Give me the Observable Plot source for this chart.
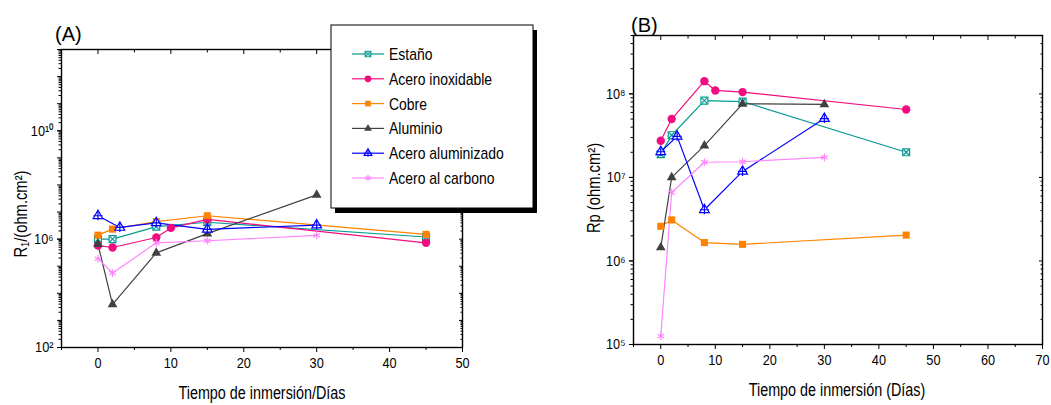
<!DOCTYPE html>
<html><head><meta charset="utf-8">
<script src="https://cdn.jsdelivr.net/npm/d3@7"></script>
<script src="https://cdn.jsdelivr.net/npm/@observablehq/plot@0.6"></script>
<style>
html,body{margin:0;padding:0;background:#fff;}
#wrap{position:relative;width:1051px;height:405px;overflow:hidden;}
#wrap svg{position:absolute;top:0;overflow:visible;}
</style></head><body><div id="wrap"></div>
<script>
// ---------- data ----------
const series = ["Estaño","Acero inoxidable","Cobre","Aluminio","Acero aluminizado","Acero al carbono"];
const colors = ["#079a94","#f20c7f","#ff8200","#404040","#0000ff","#ff85ff"];

const diasEstano      = [0,2,8,15,45];
const diasInox        = [0,2,8,10,15,45];
const diasCobre       = [0,2,8,15,45];
const diasAluminio    = [0,2,8,15,30];
const diasAluminizado = [0,3,8,15,30];
const diasCarbono     = [0,2,8,15,30];

// (A) R1 (ohm.cm2)
const r1Estano      = [1.0e6,1.0e6,2.9e6,4.2e6,1.2e6];
const r1Inox        = [5.8e5,4.9e5,1.15e6,2.6e6,5.4e6,7.3e5];
const r1Cobre       = [1.4e6,2.35e6,4.4e6,7.3e6,1.5e6];
const r1Aluminio    = [6.5e5,3.9e3,3.1e5,1.6e6,4.3e7];
const r1Aluminizado = [7.3e6,2.7e6,4.0e6,2.3e6,3.3e6];
const r1Carbono     = [1.9e5,5.6e4,7.3e5,8.7e5,1.37e6];

// (B) Rp (ohm.cm2)
const rpEstano      = [1.9e7,3.2e7,8.3e7,8.1e7,2.0e7];
const rpInox        = [2.75e7,5.0e7,1.42e8,1.1e8,1.05e8,6.5e7];
const rpCobre       = [2.6e6,3.1e6,1.66e6,1.58e6,2.04e6];
const rpAluminio    = [1.45e6,1.0e7,2.4e7,7.6e7,7.5e7];
const rpAluminizado = [2.03e7,3.1e7,4.1e6,1.18e7,5.07e7];
const rpCarbono     = [1.26e5,6.6e6,1.52e7,1.54e7,1.74e7];

// tick values
const xMajorA = [0,10,20,30,40,50];
const xMinorA = [-5,5,15,25,35,45];
const xMajorB = [0,10,20,30,40,50,60,70];
const xMinorB = [-5,5,15,25,35,45,55,65];
const yLabelA = [1e2,1e6,1e10];
const yDecA = [2,3,4,5,6,7,8,9,10,11,12,13];
const yLabelB = [1e5,1e6,1e7,1e8];
const yDecB = [5,6,7,8];

// ---------- helpers ----------
const dias = [diasEstano,diasInox,diasCobre,diasAluminio,diasAluminizado,diasCarbono];
const valsA = [r1Estano,r1Inox,r1Cobre,r1Aluminio,r1Aluminizado,r1Carbono];
const valsB = [rpEstano,rpInox,rpCobre,rpAluminio,rpAluminizado,rpCarbono];
function rows(vals){
  const out=[];
  series.forEach((s,i)=>dias[i].forEach((d,j)=>out.push({serie:s,dia:d,valor:vals[i][j]})));
  return out;
}
const rowsA = rows(valsA), rowsB = rows(valsB);
const majors = decs => decs.map(d=>Math.pow(10,d));
const minors = (decs,max) => decs.flatMap(d=>[2,3,4,5,6,7,8,9].map(k=>k*Math.pow(10,d))).filter(v=>v<=max);
const SUP = "⁰¹²³⁴⁵⁶⁷⁸⁹";
const pow10 = d => "10" + String(Math.round(Math.log10(d))).split("").map(c=>SUP[+c]).join("");

const FONT = "'Liberation Sans',Arial,sans-serif";
const col = s => colors[series.indexOf(s)];

const markerDefs = {
  "Estaño":[{symbol:"square",fill:"#fff",r:3.9,sw:1.2},{symbol:"times",fill:"none",r:2.6,sw:1.2}],
  "Acero inoxidable":[{symbol:"circle",fill:"c",r:4.2,sw:0}],
  "Cobre":[{symbol:"square",fill:"c",r:4.0,sw:0}],
  "Aluminio":[{symbol:"triangle",fill:"c",r:3.6,sw:0}],
  "Acero aluminizado":[{symbol:"triangle",fill:"#fff",r:3.6,sw:1.2},{symbol:"plus",fill:"none",r:3.0,sw:1.2}],
  "Acero al carbono":[{symbol:"asterisk",fill:"none",r:3.6,sw:1.2}]
};
function dotMarks(data){
  const m=[];
  series.forEach(s=>{
    const sub=data.filter(d=>d.serie===s);
    markerDefs[s].forEach(md=>{
      m.push(Plot.dot(sub,{x:"dia",y:"valor",symbol:md.symbol,r:md.r,
        fill: md.fill==="c"?col(s):md.fill, stroke: md.sw?col(s):"none", strokeWidth:md.sw}));
    });
  });
  return m;
}
function tickMarks(cfg){
  const yMaj = majors(cfg.yDec), yMin = minors(cfg.yDec, cfg.yMax);
  return [
    Plot.axisX({ticks:cfg.xMajor,tickSize:5,tickPadding:5,tickFormat:d=>String(d),fontSize:cfg.fs,label:null}),
    Plot.axisX({ticks:cfg.xMinor,tickSize:3,text:null,label:null}),
    Plot.axisX({anchor:"top",ticks:cfg.xMajor,tickSize:4,dy:4,text:null,label:null}),
    Plot.axisX({anchor:"top",ticks:cfg.xMinor,tickSize:2.5,dy:2.5,text:null,label:null}),
    Plot.axisY({ticks:yMaj,tickSize:4,text:null,label:null}),
    Plot.axisY({ticks:yMin,tickSize:2.5,text:null,label:null}),
    Plot.axisY({ticks:cfg.yLabel,tickSize:4,tickPadding:4,fontSize:cfg.fs,tickFormat:pow10,label:null}),
    Plot.axisY({anchor:"right",ticks:yMaj,tickSize:4,dx:-4,text:null,label:null}),
    Plot.axisY({anchor:"right",ticks:yMin,tickSize:2.5,dx:-2.5,text:null,label:null})
  ];
}

// ---------- panel A ----------
const plotA = Plot.plot({
  width:540,height:405,marginLeft:61,marginRight:78,marginTop:49,marginBottom:58,
  style:{fontFamily:FONT,color:"#000",background:"transparent",overflow:"visible"},
  x:{domain:[-5,50],axis:null},
  y:{type:"log",domain:[1e2,1e13],axis:null},
  marks:[
    ...tickMarks({xMajor:xMajorA,xMinor:xMinorA,yDec:yDecA,yMax:1e13,yLabel:yLabelA,fs:15}),
    Plot.line(rowsA,{x:"dia",y:"valor",z:"serie",stroke:d=>col(d.serie),strokeWidth:1.2}),
    ...dotMarks(rowsA),
    Plot.frame({stroke:"#000",strokeWidth:1.4})
  ]
});
plotA.style.left="0px";

// ---------- panel B ----------
const plotB = Plot.plot({
  width:511,height:405,marginLeft:93,marginRight:9,marginTop:35,marginBottom:61,
  style:{fontFamily:FONT,color:"#000",background:"transparent",overflow:"visible"},
  x:{domain:[-5,70],axis:null},
  y:{type:"log",domain:[1e5,5e8],axis:null},
  marks:[
    ...tickMarks({xMajor:xMajorB,xMinor:xMinorB,yDec:yDecB,yMax:5e8,yLabel:yLabelB,fs:15}),
    Plot.line(rowsB,{x:"dia",y:"valor",z:"serie",stroke:d=>col(d.serie),strokeWidth:1.2}),
    ...dotMarks(rowsB),
    Plot.frame({stroke:"#000",strokeWidth:1.4})
  ]
});
plotB.style.left="540px";

const wrap=document.getElementById("wrap");
wrap.appendChild(plotA); wrap.appendChild(plotB);

// ---------- text ----------
const sA=d3.select(plotA), sB=d3.select(plotB);

sA.append("text").attr("class","narrow").attr("x",262).attr("y",399).attr("text-anchor","middle").attr("font-size",17.5).text("Tiempo de inmersión/Días");
sB.append("text").attr("class","narrow").attr("x",297).attr("y",396).attr("text-anchor","middle").attr("font-size",17.5).text("Tiempo de inmersión (Días)");

sA.append("text").attr("class","narrow").attr("transform","translate(27,214) rotate(-90)").attr("text-anchor","middle").attr("font-size",18).text("R₁/(ohm.cm²)");
sB.append("text").attr("class","narrow").attr("transform","translate(60,188) rotate(-90)").attr("text-anchor","middle").attr("font-size",18).text("Rp (ohm.cm²)");

// ---------- legend ----------
const symMap={square:d3.symbolSquare,times:d3.symbolTimes,circle:d3.symbolCircle,triangle:d3.symbolTriangle,plus:d3.symbolPlus,asterisk:d3.symbolAsterisk};
const bx=331,by=25,bw=202,bh=183;
const lg=sA.append("g");
lg.append("rect").attr("x",bx+4).attr("y",by+5).attr("width",bw).attr("height",bh).attr("fill","#000");
lg.append("rect").attr("x",bx).attr("y",by).attr("width",bw).attr("height",bh).attr("fill","#fff").attr("stroke","#000").attr("stroke-width",1);
series.forEach((s,i)=>{
  const cy=by+29+i*24.8;
  lg.append("line").attr("x1",bx+21).attr("x2",bx+53).attr("y1",cy).attr("y2",cy).attr("stroke",col(s)).attr("stroke-width",1.2);
  markerDefs[s].forEach(md=>{
    const r=md.r*0.8;
    lg.append("path").attr("transform",`translate(${bx+37},${cy})`)
      .attr("d",d3.symbol(symMap[md.symbol],Math.PI*r*r)())
      .attr("fill",md.fill==="c"?col(s):md.fill).attr("stroke",md.sw?col(s):"none").attr("stroke-width",md.sw);
  });
  lg.append("text").attr("class","narrow").attr("x",bx+58).attr("y",cy).attr("dy","0.35em").attr("text-anchor","start").attr("font-size",17).text(s);
});

// panel tags (regular width)
sA.append("text").attr("x",55).attr("y",41).attr("text-anchor","start").attr("font-size",20).text("(A)");
sB.append("text").attr("x",91).attr("y",32).attr("text-anchor","start").attr("font-size",20).text("(B)");

// narrow-font look: compress labels horizontally
function narrow(sel,f){
  sel.each(function(){
    const L=this.getComputedTextLength();
    if(L>0) d3.select(this).attr("textLength",L*f).attr("lengthAdjust","spacingAndGlyphs");
  });
}
[plotA,plotB].forEach(p=>{
  narrow(d3.select(p).selectAll('g[aria-label="x-axis tick label"] text, g[aria-label="y-axis tick label"] text'),0.85);
  narrow(d3.select(p).selectAll('text.narrow'),0.82);
});
</script></body></html>
